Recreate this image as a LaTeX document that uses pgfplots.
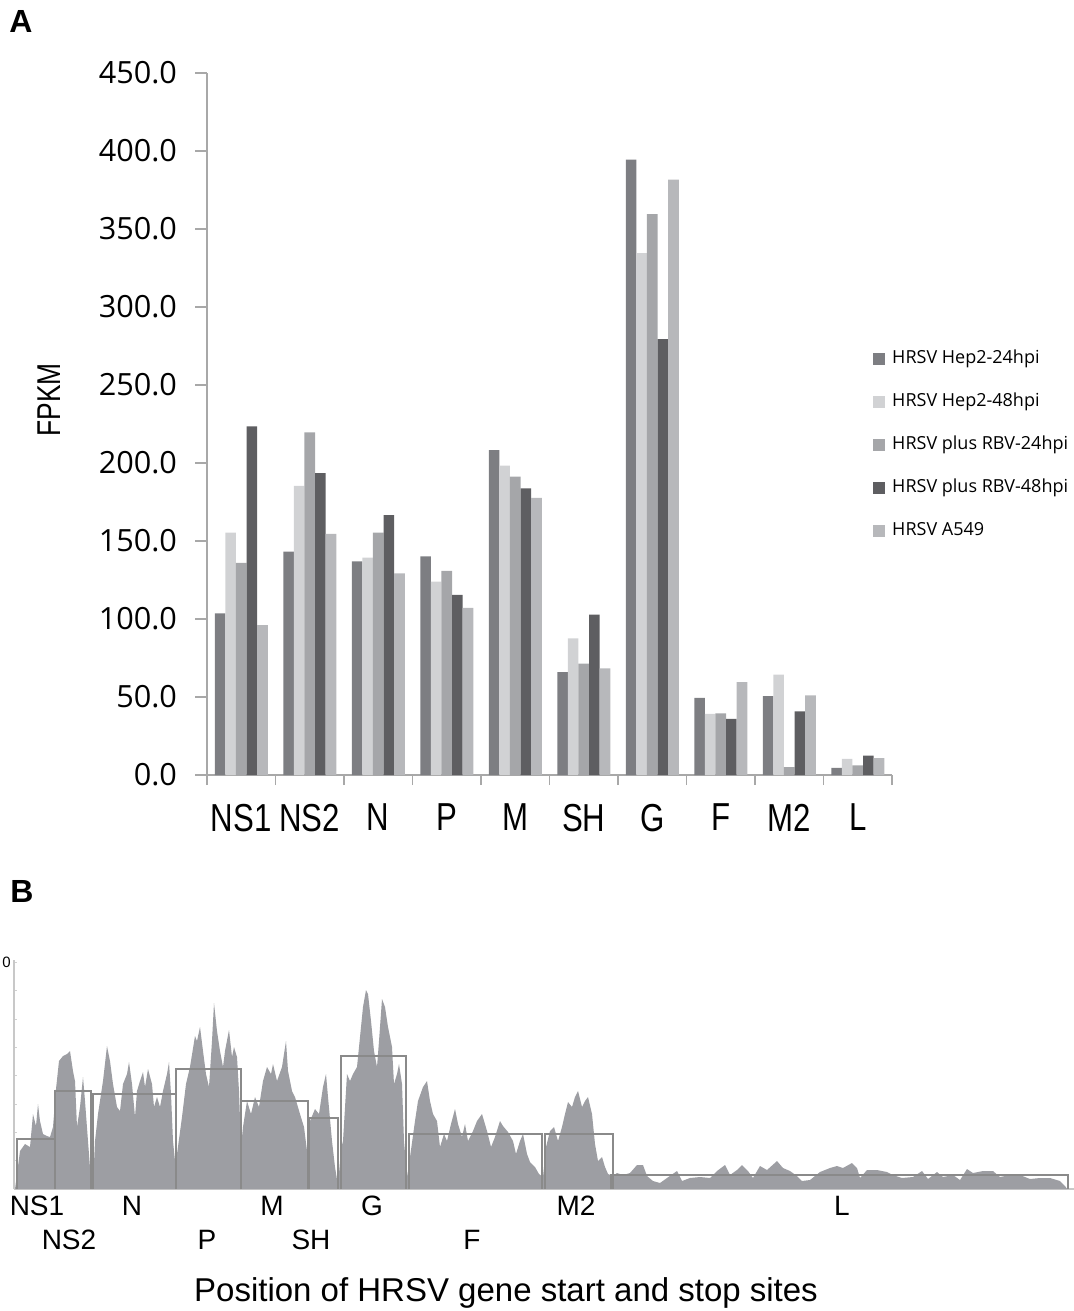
\documentclass[border=0pt]{standalone}
\usepackage{fontspec}
\setmainfont{Liberation Sans}
\newfontfamily\osans{Open Sans}
\newfontfamily\narrow[FakeStretch=0.8]{Liberation Sans}
\usepackage{pgfplots}
\pgfplotsset{compat=1.18}
\usepackage{pgfplotstable}

\definecolor{sA}{HTML}{7D7E82}
\definecolor{sB}{HTML}{D1D2D4}
\definecolor{sC}{HTML}{A5A6A9}
\definecolor{sD}{HTML}{5E5E61}
\definecolor{sE}{HTML}{B7B8BB}
\definecolor{axgray}{HTML}{A8A8A8}
\definecolor{covgray}{HTML}{9D9EA3}
\definecolor{boxgray}{HTML}{8A8A8A}
\definecolor{baxis}{HTML}{C8C8C8}
\definecolor{btick}{HTML}{D0D0D0}

% FPKM per gene
\pgfplotstableread{
gene hep24 hep48 rbv24 rbv48 a549
0 103.6 155.4 136.0 223.5 96.0
1 143.2 185.3 219.6 193.5 154.5
2 136.9 139.3 155.4 166.6 129.3
3 140.2 123.9 130.8 115.4 107.2
4 208.2 198.3 191.2 183.7 177.7
5 66.0 87.6 71.4 102.8 68.4
6 394.4 334.6 359.5 279.4 381.7
7 49.5 39.2 39.5 36.0 59.5
8 50.6 64.4 5.1 40.8 51.1
9 4.6 10.3 6.2 12.4 10.8
}\fpkm

% coverage profile of panel B (position, depth in arbitrary units)
\pgfplotstableread{
x h
15 0
17 15
20 38
25 45
30 42
33 75
36 63
38 85
40 68
43 55
47 53
50 52
53 62
56 100
59 128
63 133
67 135
70 138
73 118
75 108
77 62
80 82
83 112
85 88
88 48
91 8
93 3
95 48
98 75
103 108
107 143
110 128
113 105
117 82
120 78
123 105
127 115
129 127
132 105
135 72
137 98
140 108
143 117
145 102
148 120
152 105
154 82
157 92
160 82
163 98
167 115
169 127
171 95
173 48
175 28
177 35
182 72
186 105
190 122
195 153
197 148
200 162
203 138
206 115
209 102
212 148
214 186
217 158
220 138
223 122
225 138
229 159
232 132
234 142
237 132
239 98
241 42
243 62
247 88
251 75
255 92
259 82
263 108
267 122
271 115
273 125
277 108
282 122
286 148
288 118
292 98
295 92
300 75
304 62
307 38
310 68
315 80
319 75
323 102
326 115
328 92
332 48
335 22
338 3
341 40
343 48
347 115
350 108
353 115
357 122
361 162
363 182
366 199
368 195
371 168
374 138
377 122
379 148
382 190
385 182
388 162
392 142
394 105
397 115
399 125
402 105
404 48
407 12
410 32
415 68
418 88
423 102
427 108
430 88
433 75
437 68
440 42
444 55
447 48
451 65
455 80
458 65
462 52
465 65
468 48
473 58
477 68
482 75
487 58
491 42
495 52
500 68
503 63
508 57
513 48
516 35
520 48
523 55
527 35
530 27
535 22
539 15
543 12
546 42
550 58
554 62
558 48
562 62
565 75
568 87
572 82
575 92
578 98
582 82
585 88
588 92
592 75
595 45
598 28
602 32
605 22
608 15
613 13
617 16
623 14
630 16
637 24
643 24
647 13
653 8
660 6
667 11
677 18
682 8
690 11
700 12
710 11
717 18
725 24
730 14
737 19
742 24
748 18
753 11
760 23
767 19
777 28
783 21
790 18
797 13
802 8
810 9
820 17
830 21
837 23
843 21
852 26
857 21
860 11
867 19
877 19
887 17
893 14
902 11
913 12
922 18
928 10
937 17
943 12
953 14
960 9
967 20
973 16
983 18
993 18
1000 12
1010 14
1020 14
1030 10
1040 11
1050 11
1060 8
1065 3
1067 0
}\coverage

\begin{document}
\begin{tikzpicture}
\path[use as bounding box] (0,0) rectangle (537pt,-655.5pt);

% ---------- panel A ----------
\node[font=\bfseries\fontsize{16}{16}\selectfont] at (10.5pt,-10.5pt) {A};
\node[font=\narrow\fontsize{16.5}{16.5}\selectfont, rotate=90] at (24.5pt,-200pt) {FPKM};

\begin{axis}[
    at={(103.5pt,-387.5pt)}, anchor=south west,
    scale only axis, width=342.5pt, height=351pt,
    ybar=0pt, bar width=5.3pt,
    xmin=-0.5, xmax=9.5, ymin=0, ymax=450,
    axis x line*=bottom, axis y line*=left,
    axis line style={axgray, line width=0.75pt},
    every tick/.style={axgray, line width=0.75pt},
    tick align=outside,
    xtick={0,...,9},
    xticklabels={NS1,NS2,N,P,M,SH,G,F,M2,L},
    major x tick style={draw=none},
    minor xtick={-0.5,0.5,...,9.5},
    minor tick length=5pt,
    xticklabel style={font=\narrow\fontsize{19.5}{20}\selectfont, yshift=-5pt},
    ytick={0,50,...,450},
    major tick length=6pt,
    /pgf/number format/.cd, fixed, fixed zerofill, precision=1, assume math mode=true,
    /pgfplots/.cd,
    yticklabel style={font=\osans\fontsize{15.3}{16}\selectfont, xshift=-5.5pt},
    legend style={at={(0.972,0.609)}, anchor=north west, draw=none, fill=none,
        inner sep=0pt, row sep=10.5pt,
        font=\osans\fontsize{9}{9}\selectfont,
        nodes={inner sep=1pt, text height=7pt, text depth=2pt}},
    legend cell align=left,
    legend image code/.code={\fill[#1,draw=none] (0pt,-3pt) rectangle (6pt,3pt);
        \path (8.5pt,0pt);},
]
\addplot[fill=sA, draw=none] table[x=gene, y=hep24] {\fpkm};
\addplot[fill=sB, draw=none] table[x=gene, y=hep48] {\fpkm};
\addplot[fill=sC, draw=none] table[x=gene, y=rbv24] {\fpkm};
\addplot[fill=sD, draw=none] table[x=gene, y=rbv48] {\fpkm};
\addplot[fill=sE, draw=none] table[x=gene, y=a549] {\fpkm};
\legend{HRSV Hep2-24hpi, HRSV Hep2-48hpi, HRSV plus RBV-24hpi, HRSV plus RBV-48hpi, HRSV A549}
\end{axis}

% ---------- panel B ----------
\node[font=\bfseries\fontsize{16}{16}\selectfont] at (11pt,-445.5pt) {B};

\begin{axis}[
    at={(7pt,-594.5pt)}, anchor=south west,
    scale only axis, width=530pt, height=114.5pt,
    xmin=14, xmax=1074, ymin=0, ymax=229,
    axis x line*=bottom, axis y line*=left,
    axis line style={baxis, line width=0.75pt},
    xtick=\empty,
    ytick={0,28.33,56.67,85,113.33,141.67,170,198.33,226.67},
    yticklabels={,,,,,,,,0},
    tick align=inside, major tick length=1.5pt,
    every tick/.style={btick, line width=0.5pt},
    yticklabel style={font=\fontsize{7.5}{8}\selectfont, inner sep=1.5pt},
    clip=false,
]
\addplot[fill=covgray, draw=none] table[x=x, y=h] {\coverage};
\addplot[boxgray, line width=0.7pt] coordinates {(17,0) (17,50) (55,50) (55,0)};
\addplot[boxgray, line width=0.7pt] coordinates {(55,0) (55,98) (91,98) (91,0)};
\addplot[boxgray, line width=0.7pt] coordinates {(93,0) (93,95) (176,95) (176,0)};
\addplot[boxgray, line width=0.7pt] coordinates {(176,0) (176,120) (241,120) (241,0)};
\addplot[boxgray, line width=0.7pt] coordinates {(241,0) (241,88) (308,88) (308,0)};
\addplot[boxgray, line width=0.7pt] coordinates {(309,0) (309,71) (338,71) (338,0)};
\addplot[boxgray, line width=0.7pt] coordinates {(341,0) (341,133) (406,133) (406,0)};
\addplot[boxgray, line width=0.7pt] coordinates {(409,0) (409,55) (542,55) (542,0)};
\addplot[boxgray, line width=0.7pt] coordinates {(545,0) (545,55) (613,55) (613,0)};
\addplot[boxgray, line width=0.7pt] coordinates {(611,0) (611,14) (1068,14) (1068,0)};

\begin{scope}[every node/.style={font=\fontsize{14}{14}\selectfont}]
\node at (axis cs:37,-17) {NS1};
\node at (axis cs:132,-17) {N};
\node at (axis cs:272,-17) {M};
\node at (axis cs:372,-17) {G};
\node at (axis cs:576,-17) {M2};
\node at (axis cs:842,-17) {L};
\node at (axis cs:69,-51) {NS2};
\node at (axis cs:207,-51) {P};
\node at (axis cs:311,-51) {SH};
\node at (axis cs:472,-51) {F};
\end{scope}
\node[font=\fontsize{16.5}{16.5}\selectfont] at (axis cs:506,-104) {Position of HRSV gene start and stop sites};
\end{axis}
\end{tikzpicture}
\end{document}
